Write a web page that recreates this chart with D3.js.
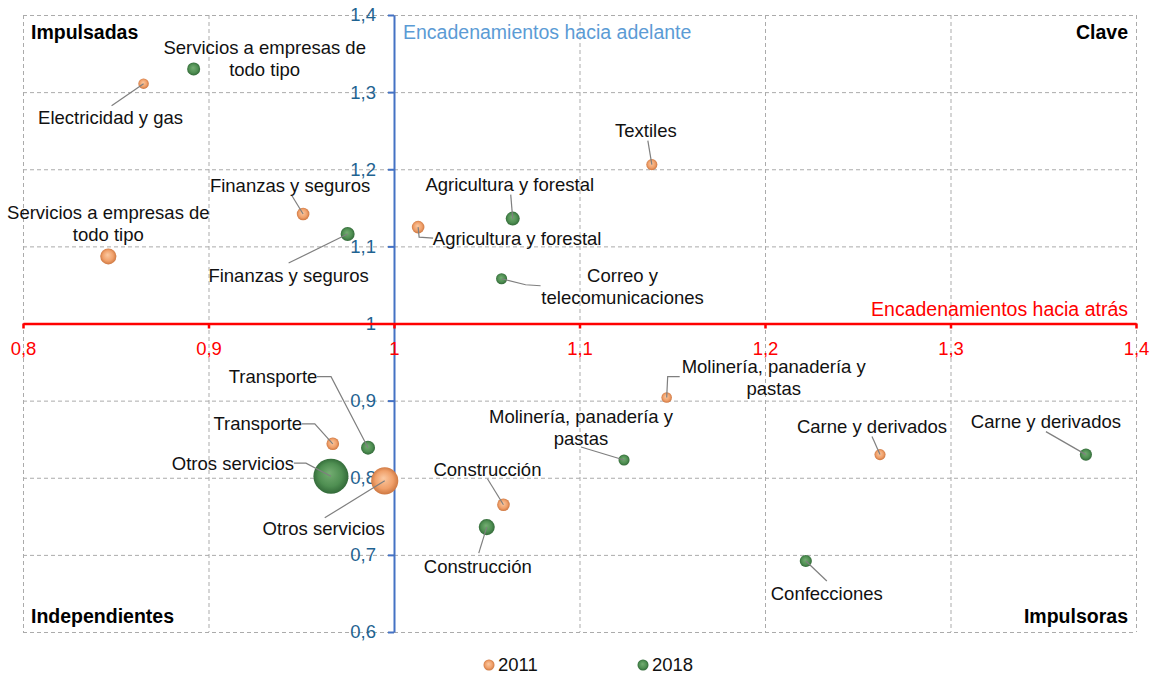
<!DOCTYPE html>
<html>
<head>
<meta charset="utf-8">
<script src="https://cdn.jsdelivr.net/npm/d3@7"></script>
<style>
  body { margin: 0; background: #fff; }
  svg text { font-family: "Liberation Sans", Arial, sans-serif; }
</style>
</head>
<body>
<div id="chart"></div>
<script>
// data
var sectores2011 = ["Electricidad y gas", "Servicios a empresas de|todo tipo", "Finanzas y seguros",
  "Agricultura y forestal", "Textiles", "Molinería, panadería y|pastas", "Carne y derivados",
  "Transporte", "Otros servicios", "Construcción"];
var atras2011 = [0.865, 0.846, 0.951, 1.013, 1.139, 1.147, 1.262, 0.967, 0.995, 1.059];
var adelante2011 = [1.311, 1.087, 1.142, 1.125, 1.206, 0.904, 0.830, 0.844, 0.796, 0.765];
var peso2011 = [0.9, 2.1, 1.3, 1.3, 1.0, 0.9, 1.0, 1.3, 6.0, 1.3];

var sectores2018 = ["Servicios a empresas de|todo tipo", "Finanzas y seguros", "Agricultura y forestal",
  "Correo y|telecomunicaciones", "Molinería, panadería y|pastas", "Carne y derivados",
  "Confecciones", "Transporte", "Otros servicios", "Construcción"];
var atras2018 = [0.892, 0.975, 1.064, 1.058, 1.124, 1.373, 1.222, 0.986, 0.966, 1.050];
var adelante2018 = [1.330, 1.116, 1.136, 1.058, 0.823, 0.830, 0.692, 0.839, 0.802, 0.736];
var peso2018 = [1.4, 1.6, 1.6, 1.0, 1.0, 1.2, 1.2, 1.6, 10.0, 2.1];

var xTicks = [0.8, 0.9, 1, 1.1, 1.2, 1.3, 1.4];
var yTicks = [0.6, 0.7, 0.8, 0.9, 1, 1.1, 1.2, 1.3, 1.4];

// label placement (pixel offsets from the bubble): [dx, dy, leader points]
var labels2011 = [
  [-33, 34, [[-32, 22]]],
  [0, -44, null],
  [-13, -28, [[-11, -18]]],
  [99, 11, [[15, 11], [1, 10]]],
  [-6, -34, [[-4, -24]]],
  [107, -31, [[13, -21], [1, -21]]],
  [-8, -28, [[-8, -18]]],
  [-75, -20, [[-31, -20], [-18, -20]]],
  [-61, 48, [[-60, 37]]],
  [-16, -35, [[-16, -26]]]
];
var labels2018 = [
  [71, -21, null],
  [-59, 41, [[-59, 29]]],
  [-3, -34, [[-2, -24]]],
  [121, -3, [[39, 7], [24, 6]]],
  [-43, -43, [[-43, -13]]],
  [-40, -33, [[-40, -23]]],
  [21, 32, [[21, 20]]],
  [-95, -71, [[-51, -71], [-37, -71]]],
  [-98, -13, [[-37, -13], [-25, -13]]],
  [-9, 39, [[-8, 26]]]
];

var svgWidth = 1151;
var svgHeight = 677;
var margin = { top: 15, right: 15, bottom: 45, left: 23 };
var width = svgWidth - margin.left - margin.right;
var height = svgHeight - margin.top - margin.bottom;

var svg = d3.select("#chart").append("svg")
  .attr("width", svgWidth)
  .attr("height", svgHeight);

// sphere-like gradients
var defs = svg.append("defs");
function sphere(id, light, mid, dark) {
  var g = defs.append("radialGradient").attr("id", id)
    .attr("cx", "50%").attr("cy", "50%").attr("r", "55%")
    .attr("fx", "45%").attr("fy", "40%");
  g.append("stop").attr("offset", "0%").attr("stop-color", light);
  g.append("stop").attr("offset", "60%").attr("stop-color", mid);
  g.append("stop").attr("offset", "100%").attr("stop-color", dark);
}
sphere("g2011", "#fbc9a2", "#f0a06a", "#c66e38");
sphere("g2018", "#74ad72", "#4f8f52", "#2c6133");

var chartGroup = svg.append("g")
  .attr("transform", `translate(${margin.left}, ${margin.top})`);

var xScale = d3.scaleLinear().domain([0.8, 1.4]).range([0, width]);
var yScale = d3.scaleLinear().domain([0.6, 1.4]).range([height, 0]);
var rScale = d3.scaleSqrt().domain([0, 10]).range([0, 17.5]);
var fmt = d => d3.format("~g")(d).replace(".", ",");

// dashed grid
chartGroup.append("g")
  .attr("class", "grid")
  .call(d3.axisLeft(yScale).tickValues(yTicks).tickSize(-width).tickFormat(""))
  .call(g => g.select(".domain").remove());
chartGroup.append("g")
  .attr("class", "grid")
  .call(d3.axisTop(xScale).tickValues(xTicks).tickSize(-height).tickFormat(""))
  .call(g => g.select(".domain").remove());
chartGroup.selectAll(".grid line")
  .attr("stroke", "#ababab")
  .attr("stroke-width", 1)
  .attr("stroke-dasharray", "4,3");

// quadrant names
chartGroup.append("text").attr("x", 8).attr("y", 24).text("Impulsadas")
  .attr("font-size", "19.5px").attr("font-weight", "bold");
chartGroup.append("text").attr("x", width - 8).attr("y", 24).attr("text-anchor", "end").text("Clave")
  .attr("font-size", "19.5px").attr("font-weight", "bold");
chartGroup.append("text").attr("x", 8).attr("y", 608).text("Independientes")
  .attr("font-size", "19.5px").attr("font-weight", "bold");
chartGroup.append("text").attr("x", width - 8).attr("y", 608).attr("text-anchor", "end").text("Impulsoras")
  .attr("font-size", "19.5px").attr("font-weight", "bold");

function drawLeaders(xs, ys, lays) {
  xs.forEach(function(d, i) {
    var lay = lays[i];
    if (!lay[2]) return;
    var px = xScale(xs[i]), py = yScale(ys[i]);
    var pts = lay[2].map(p => [px + p[0], py + p[1]]).concat([[px, py]]);
    chartGroup.append("path")
      .attr("d", d3.line()(pts))
      .attr("fill", "none")
      .attr("stroke", "#7f7f7f")
      .attr("stroke-width", 1.2);
  });
}

function drawBubbles(xs, ys, ws, grad) {
  chartGroup.append("g").selectAll("circle")
    .data(xs)
    .enter()
    .append("circle")
    .attr("cx", (d, i) => xScale(xs[i]))
    .attr("cy", (d, i) => yScale(ys[i]))
    .attr("r", (d, i) => rScale(ws[i]))
    .attr("fill", `url(#${grad})`);
}

function drawLabels(names, xs, ys, lays) {
  names.forEach(function(name, i) {
    var lay = lays[i];
    var t = chartGroup.append("text")
      .attr("x", xScale(xs[i]) + lay[0])
      .attr("y", yScale(ys[i]) + lay[1])
      .attr("text-anchor", "middle")
      .attr("font-size", "18.5px")
      .attr("fill", "#111");
    name.split("|").forEach(function(line, j) {
      t.append("tspan")
        .attr("x", xScale(xs[i]) + lay[0])
        .attr("dy", j === 0 ? "0.35em" : "1.17em")
        .text(line);
    });
  });
}

drawBubbles(atras2018, adelante2018, peso2018, "g2018");

// y axis (blue, at x = 1)
var yAxis = chartGroup.append("g")
  .attr("transform", `translate(${xScale(1)}, 0)`)
  .call(d3.axisLeft(yScale).tickValues(yTicks).tickFormat(fmt).tickSize(6).tickSizeOuter(0).tickPadding(12));
yAxis.selectAll("path, line").attr("stroke", "#4472c4").attr("stroke-width", 2);
yAxis.selectAll("text").attr("font-size", "18.5px").attr("fill", "#1f6391")
  .style("font-family", "Liberation Sans, Arial, sans-serif");

drawBubbles(atras2011, adelante2011, peso2011, "g2011");

// x axis (red, at y = 1)
var xAxis = chartGroup.append("g")
  .attr("transform", `translate(0, ${yScale(1)})`)
  .call(d3.axisBottom(xScale).tickValues(xTicks).tickFormat(fmt).tickSize(5).tickSizeOuter(0).tickPadding(13));
xAxis.selectAll("path, line").attr("stroke", "#ff0000").attr("stroke-width", 2.5);
xAxis.selectAll("text").attr("font-size", "18.5px").attr("fill", "#ff0000")
  .style("font-family", "Liberation Sans, Arial, sans-serif");

drawLeaders(atras2011, adelante2011, labels2011);
drawLeaders(atras2018, adelante2018, labels2018);
drawLabels(sectores2011, atras2011, adelante2011, labels2011);
drawLabels(sectores2018, atras2018, adelante2018, labels2018);

// axis titles
chartGroup.append("text")
  .attr("x", xScale(1) + 9).attr("y", 24)
  .attr("font-size", "19.5px").attr("fill", "#5b9bd5")
  .text("Encadenamientos hacia adelante");
chartGroup.append("text")
  .attr("x", width - 8).attr("y", yScale(1) - 8)
  .attr("text-anchor", "end")
  .attr("font-size", "19.5px").attr("fill", "#ff0000")
  .text("Encadenamientos hacia atrás");

// legend
var legend = svg.append("g").attr("transform", `translate(489, 665)`);
[["2011", "g2011", 0], ["2018", "g2018", 154]].forEach(function(l) {
  legend.append("circle").attr("cx", l[2]).attr("cy", 0).attr("r", 5.5).attr("fill", `url(#${l[1]})`);
  legend.append("text").attr("x", l[2] + 9).attr("y", 0).attr("dy", "0.35em")
    .attr("font-size", "18.5px").attr("fill", "#111").text(l[0]);
});
</script>
</body>
</html>
